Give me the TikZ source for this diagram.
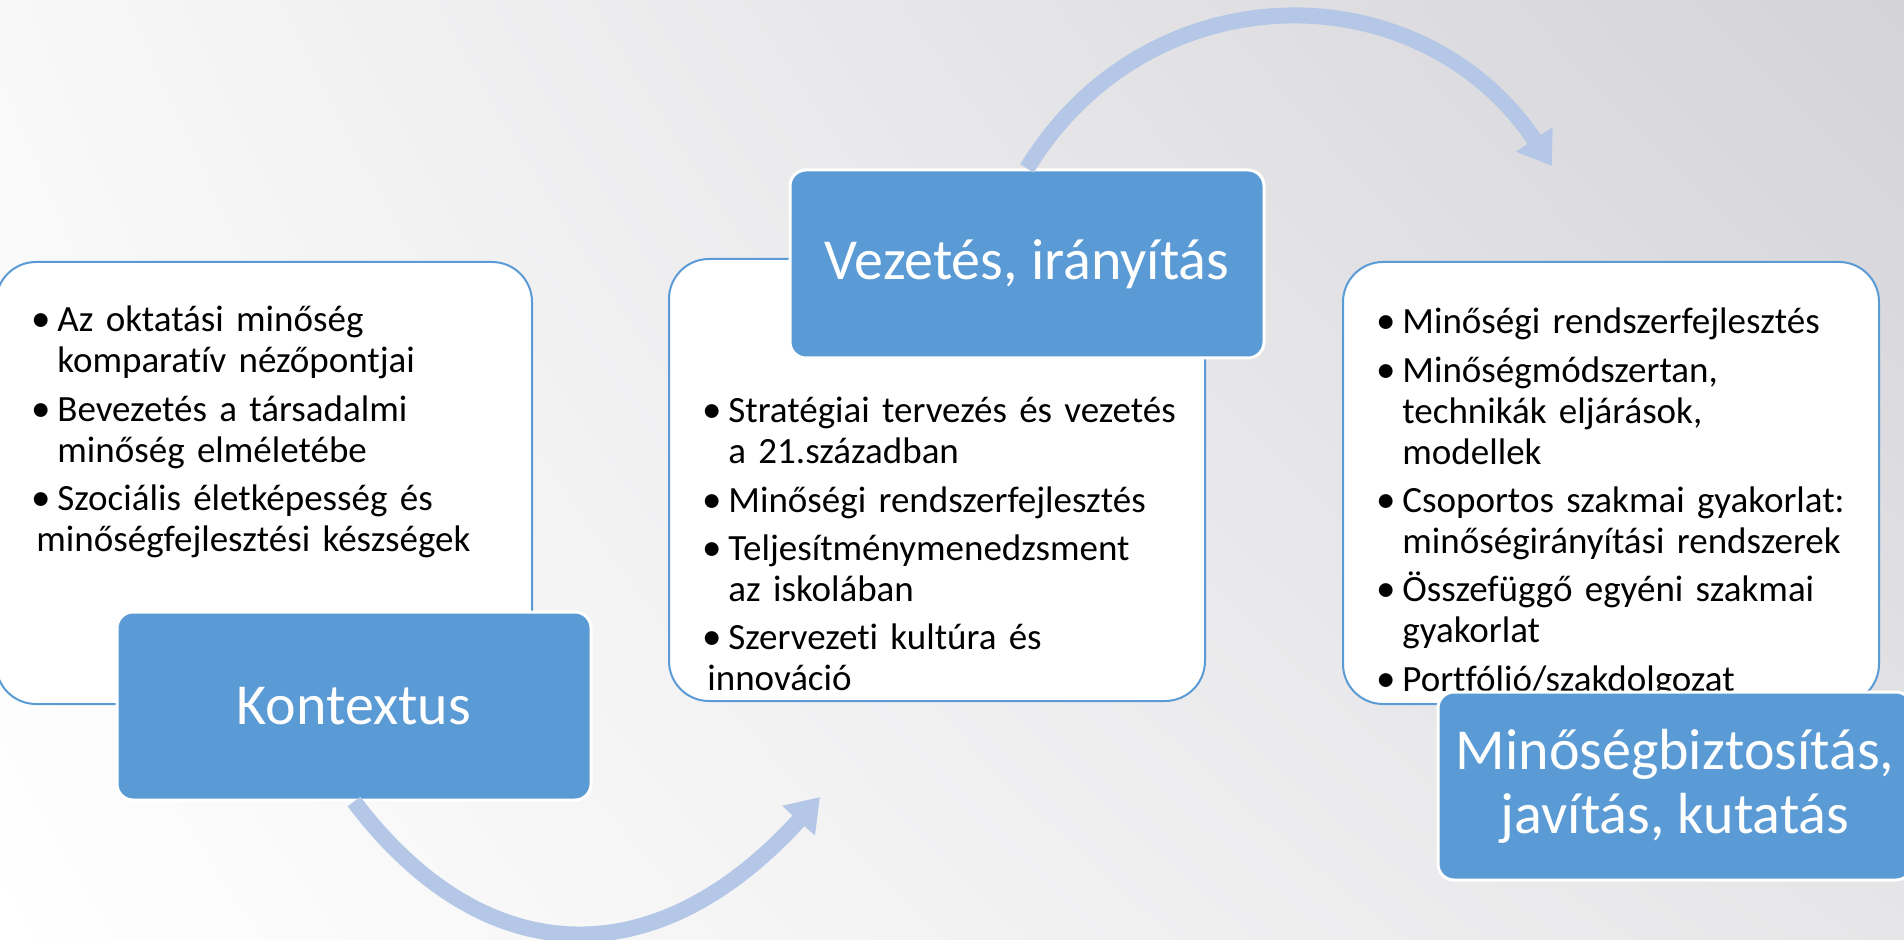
\documentclass[tikz,border=0pt]{standalone}
\usepackage{fontspec}
\setmainfont{Carlito}[Ligatures={NoCommon,NoContextual}]
\usetikzlibrary{arrows.meta,shadings}

\definecolor{boxblue}{HTML}{5B9BD5}
\definecolor{arrowblue}{HTML}{B4C7E7}
\definecolor{bgtopleft}{HTML}{F8F8F8}
\definecolor{bgtopright}{HTML}{D3D3D8}
\definecolor{bglowright}{HTML}{E6E6E8}

\newcommand{\bpoint}{\par\hangindent=10.5pt\hangafter=1\noindent
  \hbox to 10.5pt{\hskip-2.5pt{\fontsize{19.5}{20}\selectfont\textbullet}\hfil}}

\tikzset{
  panel/.style={draw=boxblue, line width=1pt, fill=white, rounded corners=20pt,
    minimum width=268pt, minimum height=221pt},
  header/.style={draw=white, line width=1.5pt, fill=boxblue, rounded corners=8pt,
    minimum width=237pt, minimum height=94pt, text=white, align=center,
    font=\fontsize{29}{32}\selectfont},
  listtext/.style={anchor=north west, inner sep=0pt, text width=262pt, align=left,
    font=\fontsize{18.5}{20.5}\selectfont,
    execute at begin node={\setlength{\parskip}{3.7pt}}},
  cyclearrow/.style={draw=arrowblue, line width=8pt,
    -{Triangle[width=21pt,length=16pt]}}
}

\begin{document}
\begin{tikzpicture}[x=0.5pt,y=-0.5pt]
  \useasboundingbox (0,0) rectangle (1904,940);
  \clip (0,0) rectangle (1904,940);
  % background
  \shade[upper left=bgtopleft, upper right=bgtopright,
         lower left=white, lower right=bglowright] (0,0) rectangle (1904,940);

  % first stage
  \node[panel] (ctxpanel) at (264,483) {};
  \node[listtext] (ctxlist) at (36,283) {%
    \bpoint Az oktatási minőség\newline komparatív nézőpontjai
    \bpoint Bevezetés a társadalmi\newline minőség elméletébe
    \bpoint Szociális életképesség és\newline minőségfejlesztési készségek};
  \node[header] (ctx) at (354,706) {Kontextus};

  % second stage
  \node[panel] (leadpanel) at (937,480) {};
  \node[listtext] (leadlist) at (707,374) {%
    \bpoint Stratégiai tervezés és vezetés\newline a 21.században
    \bpoint Minőségi rendszerfejlesztés
    \bpoint Teljesítménymenedzsment\newline az iskolában
    \bpoint Szervezeti kultúra és\newline innováció};
  \node[header] (lead) at (1027,264) {Vezetés, irányítás};

  % third stage
  \node[panel] (qualpanel) at (1611,483) {};
  \node[listtext] (quallist) at (1381,285) {%
    \bpoint Minőségi rendszerfejlesztés
    \bpoint Minőségmódszertan,\newline technikák eljárások,\newline modellek
    \bpoint Csoportos szakmai gyakorlat:\newline minőségirányítási rendszerek
    \bpoint Összefüggő egyéni szakmai\newline gyakorlat
    \bpoint Portfólió/szakdolgozat};
  \node[header] (qual) at (1675,786) {Minőségbiztosítás,\\ javítás, kutatás};

  % arrows between stages
  \coordinate (lowtip) at (820,797);
  \coordinate (hightip) at (1552,166);
  \draw[cyclearrow] (ctx.south) .. controls +(130,172) and +(-164,181) .. (lowtip);
  \draw[cyclearrow] (lead.north) .. controls +(121,-199) and +(-132,-197) .. (hightip);
\end{tikzpicture}
\end{document}
